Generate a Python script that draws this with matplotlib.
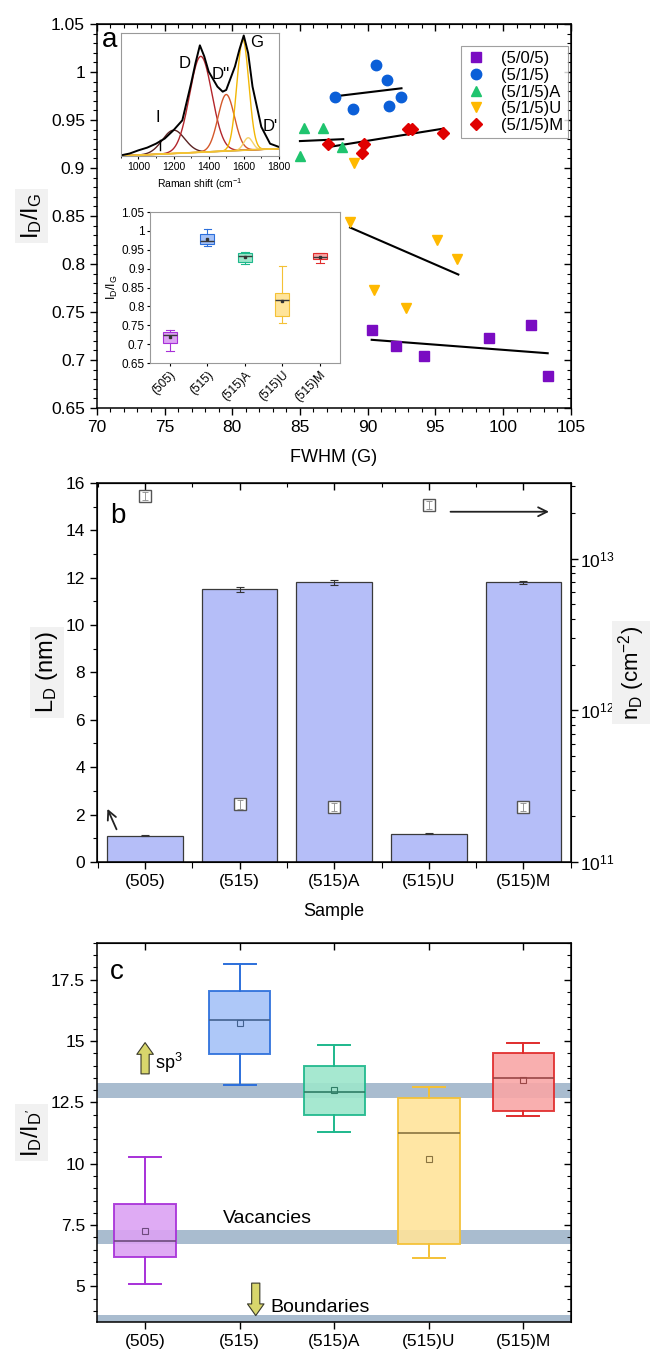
import numpy as np
import matplotlib.pyplot as plt
from matplotlib.ticker import MultipleLocator, FuncFormatter, LogLocator

plt.rcParams['font.family'] = ['Liberation Sans', 'DejaVu Sans']
plt.rcParams['mathtext.fontset'] = 'custom'
plt.rcParams['mathtext.rm'] = 'Liberation Sans'
plt.rcParams['mathtext.it'] = 'Liberation Sans:italic'

# ---- panel a : I_D/I_G vs FWHM(G) ----
series_names = ['(5/0/5)', '(5/1/5)', '(5/1/5)A', '(5/1/5)U', '(5/1/5)M']
series_colors = ['#7a0cc2', '#0b5fd8', '#1fc46e', '#ffb900', '#e00000']
series_markers = ['s', 'o', '^', 'v', 'D']
fwhm = [
    [90.3, 92.1, 94.2, 99.0, 102.1, 103.3],
    [87.6, 88.9, 90.6, 91.4, 91.6, 92.5],
    [85.3, 86.7, 85.0, 88.1],
    [89.0, 88.7, 95.1, 96.6, 90.5, 92.8],
    [87.1, 89.7, 89.6, 93.0, 93.3, 95.6],
]
ratio = [
    [0.731, 0.715, 0.704, 0.723, 0.736, 0.683],
    [0.974, 0.961, 1.007, 0.992, 0.965, 0.974],
    [0.942, 0.942, 0.912, 0.922],
    [0.905, 0.844, 0.825, 0.805, 0.773, 0.754],
    [0.925, 0.925, 0.916, 0.941, 0.941, 0.936],
]
fit_x = [[90.3, 103.3], [87.8, 92.5], [85.0, 88.2], [88.7, 96.7], [87.2, 95.6]]
fit_y = [[0.721, 0.707], [0.975, 0.983], [0.928, 0.930], [0.838, 0.789], [0.922, 0.941]]

# inset: Raman spectrum (normalised)
raman_x = [900, 950, 1000, 1050, 1100, 1150, 1200, 1250, 1300, 1325, 1350, 1375,
           1400, 1450, 1480, 1500, 1550, 1575, 1600, 1625, 1650, 1700, 1750, 1800]
raman_y = [0.005, 0.02, 0.046, 0.068, 0.10, 0.142, 0.21, 0.29, 0.59, 0.755, 0.90, 0.81,
           0.687, 0.564, 0.523, 0.537, 0.728, 0.864, 0.98, 0.837, 0.564, 0.237, 0.10, 0.074]
peak_names = ['I', 'D', "D''", 'G', "D'"]
peak_pos = [1200, 1355, 1500, 1595, 1625]
peak_height = [0.19, 0.78, 0.46, 0.90, 0.10]
peak_fwhm = [150, 150, 110, 80, 60]
peak_colors = ['#5b2323', '#b3262c', '#d4582a', '#f2b705', '#f5d36a']
base_x = [900, 1800]
base_y = [0.0, 0.06]

# inset: box plot of I_D/I_G
samples = ['(505)', '(515)', '(515)A', '(515)U', '(515)M']
box_fill = ['#dca2f3', '#a5c2f8', '#9de6cb', '#ffe49a', '#f9a6a6']
box_edge = ['#a730d8', '#2c6fdb', '#1eb88c', '#f4c136', '#e02c2c']
box_med = ['#6e4a7e', '#42618f', '#2f7d66', '#8a7440', '#9a4646']
ig_whislo = [0.683, 0.9605, 0.912, 0.756, 0.916]
ig_q1 = [0.7035, 0.965, 0.917, 0.775, 0.925]
ig_med = [0.7237, 0.974, 0.9325, 0.816, 0.932]
ig_q3 = [0.7325, 0.991, 0.942, 0.835, 0.941]
ig_whishi = [0.7386, 1.006, 0.944, 0.906, 0.942]
ig_mean = [0.7184, 0.978, 0.930, 0.815, 0.930]

# ---- panel b : L_D and n_D ----
LD = [1.1, 11.5, 11.8, 1.2, 11.8]
LD_err = [0.02, 0.12, 0.12, 0.03, 0.05]
nD = [2.6e13, 2.4e11, 2.3e11, 2.25e13, 2.3e11]
nD_err = [1.6e12, 1.5e10, 1.4e10, 1.4e12, 1.4e10]

# ---- panel c : I_D/I_D' ----
dd_whislo = [5.12, 13.22, 11.28, 6.17, 11.96]
dd_q1 = [6.20, 14.48, 11.98, 6.74, 12.14]
dd_med = [6.84, 15.84, 12.93, 11.24, 13.50]
dd_q3 = [8.36, 17.04, 14.00, 12.70, 14.50]
dd_whishi = [10.27, 18.15, 14.86, 13.14, 14.94]
dd_mean = [7.28, 15.74, 13.00, 10.18, 13.42]
band_lo = [12.70, 6.73, 3.40]
band_hi = [13.28, 7.32, 3.82]

label_bg = dict(facecolor='#f1f1f1', edgecolor='none', pad=3)
tick_fs = 12.5


def style_ticks(ax, mirror_x=True, mirror_y=True):
    # left/bottom ticks out, mirrored top/right ticks in
    ax.tick_params(which='major', direction='out', length=5, width=1, labelsize=tick_fs)
    ax.tick_params(which='minor', direction='out', length=3, width=0.8)
    for s in ax.spines.values():
        s.set_linewidth(1.1)
    if mirror_x:
        top = ax.secondary_xaxis('top')
        top.set_xticks(ax.get_xticks())
        top.xaxis.set_minor_locator(ax.xaxis.get_minor_locator())
        top.tick_params(which='major', direction='in', length=5, width=1, labeltop=False)
        top.tick_params(which='minor', direction='in', length=3, width=0.8)
    if mirror_y:
        right = ax.secondary_yaxis('right')
        right.set_yticks(ax.get_yticks())
        right.yaxis.set_minor_locator(ax.yaxis.get_minor_locator())
        right.tick_params(which='major', direction='in', length=5, width=1, labelright=False)
        right.tick_params(which='minor', direction='in', length=3, width=0.8)


fig = plt.figure(figsize=(6.5, 13.54), dpi=100)

# ================= panel a =================
axa = fig.add_axes([0.149, 0.6987, 0.729, 0.2836])
for i in range(len(series_names)):
    axa.plot(fit_x[i], fit_y[i], color='black', lw=1.5, zorder=2)
for i in range(len(series_names)):
    ms = 7.5 if series_markers[i] in ('o', '^', 'v') else 6.5
    axa.plot(fwhm[i], ratio[i], ls='none', marker=series_markers[i], ms=ms,
             color=series_colors[i], mec=series_colors[i], label=series_names[i], zorder=3)
axa.set_xlim(70, 105)
axa.set_ylim(0.65, 1.05)
axa.xaxis.set_major_locator(MultipleLocator(5))
axa.xaxis.set_minor_locator(MultipleLocator(1))
axa.yaxis.set_major_locator(MultipleLocator(0.05))
axa.yaxis.set_minor_locator(MultipleLocator(0.01))
axa.yaxis.set_major_formatter(FuncFormatter(lambda v, p: f'{v:g}'))
style_ticks(axa)
axa.set_xlim(70, 105)
axa.set_ylim(0.65, 1.05)
axa.set_xlabel('FWHM (G)', fontsize=13, labelpad=10)
axa.set_ylabel('I$_\\mathrm{D}$/I$_\\mathrm{G}$', fontsize=17, labelpad=5, bbox=label_bg)
axa.text(70.4, 1.033, 'a', fontsize=20, ha='left', va='center')
leg = axa.legend(loc='upper right', bbox_to_anchor=(0.995, 0.942), borderaxespad=0,
                 fontsize=12, fancybox=False, edgecolor='#888888', labelspacing=0.1,
                 handletextpad=0.9, handlelength=1.2, borderpad=0.3)
leg.get_frame().set_linewidth(0.8)

# inset: Raman spectrum
axr = fig.add_axes([0.186, 0.8848, 0.243, 0.0908])
xs = np.linspace(900, 1800, 400)
bl = np.interp(xs, base_x, base_y)
for c, h, w, col in zip(peak_pos, peak_height, peak_fwhm, peak_colors):
    sig = w / 2.355
    axr.plot(xs, bl + h * np.exp(-0.5 * ((xs - c) / sig) ** 2), color=col, lw=1.0)
axr.plot(base_x, base_y, color='#f2c230', lw=1.2)
axr.plot(raman_x, raman_y, color='black', lw=1.4)
axr.set_xlim(900, 1800)
axr.set_ylim(0, 1.0)
axr.set_yticks([])
axr.xaxis.set_major_locator(MultipleLocator(200))
axr.xaxis.set_minor_locator(MultipleLocator(100))
axr.tick_params(axis='x', which='major', labelsize=7.5, length=2.5, direction='out', pad=2)
axr.tick_params(axis='x', which='minor', length=1.5)
for s in axr.spines.values():
    s.set_color('#999999')
    s.set_linewidth(0.8)
axr.set_xlabel('Raman shift (cm$^{-1}$', fontsize=7.5, labelpad=3)
axr.text(1110, 0.25, 'I', fontsize=12, ha='center', va='bottom')
axr.plot([1120, 1120], [0.05, 0.13], color='black', lw=1)
axr.text(1265, 0.75, 'D', fontsize=12, ha='center', va='center')
axr.text(1470, 0.66, "D''", fontsize=12, ha='center', va='center')
axr.text(1675, 0.92, 'G', fontsize=12, ha='center', va='center')
axr.text(1750, 0.24, "D'", fontsize=12, ha='center', va='center')

# inset: box plot
axi = fig.add_axes([0.2308, 0.7319, 0.292, 0.1115])
stats_i = [dict(whislo=ig_whislo[k], q1=ig_q1[k], med=ig_med[k], q3=ig_q3[k],
                whishi=ig_whishi[k], mean=ig_mean[k], fliers=[]) for k in range(5)]
bpi = axi.bxp(stats_i, positions=range(5), widths=0.37, patch_artist=True, showmeans=True,
              capwidths=0.2,
              meanprops=dict(marker='s', ms=2, mfc='#333333', mec='#333333'))
for k in range(5):
    bpi['boxes'][k].set(facecolor=box_fill[k], edgecolor=box_edge[k], lw=0.8)
    bpi['medians'][k].set(color='#3a3a3a', lw=1.0)
    for art in bpi['whiskers'][2 * k:2 * k + 2] + bpi['caps'][2 * k:2 * k + 2]:
        art.set(color=box_edge[k], lw=0.8)
axi.set_xlim(-0.53, 4.53)
axi.set_ylim(0.65, 1.05)
axi.yaxis.set_major_locator(MultipleLocator(0.05))
axi.yaxis.set_major_formatter(FuncFormatter(lambda v, p: f'{v:g}'))
axi.set_xticks(range(5))
axi.set_xticklabels(samples, rotation=45, ha='right', rotation_mode='anchor', fontsize=8.5)
axi.tick_params(axis='y', labelsize=8.5, length=2.5, pad=1.5)
axi.tick_params(axis='x', length=2.5, pad=2)
for s in axi.spines.values():
    s.set_color('#999999')
    s.set_linewidth(0.8)
axi.set_ylabel('I$_\\mathrm{D}$/I$_\\mathrm{G}$', fontsize=9, labelpad=1)

# ================= panel b =================
axb = fig.add_axes([0.149, 0.3634, 0.729, 0.280])
xb = np.arange(len(samples))
axb.bar(xb, LD, width=0.8, color='#b5bef8', edgecolor='#3a3a3a', lw=0.9,
        yerr=LD_err, capsize=3, error_kw=dict(lw=0.8, ecolor='#333333', capthick=0.8), zorder=2)
axb.set_xlim(-0.51, 4.5)
axb.set_ylim(0, 16)
axb.set_xticks(xb)
axb.set_xticklabels(samples)
axb.xaxis.set_minor_locator(MultipleLocator(0.5))
axb.yaxis.set_major_locator(MultipleLocator(2))
axb.yaxis.set_minor_locator(MultipleLocator(1))
style_ticks(axb, mirror_y=False)
axb.set_xlim(-0.51, 4.5)
axb.tick_params(axis='x', which='minor', length=4)
axb.set_xlabel('Sample', fontsize=13, labelpad=10)
axb.set_ylabel('L$_\\mathrm{D}$ (nm)', fontsize=17, labelpad=4, bbox=label_bg)
axb.text(-0.37, 14.6, 'b', fontsize=20, ha='left', va='center')
axb.annotate('', xy=(-0.41, 2.35), xytext=(-0.29, 1.27),
             arrowprops=dict(arrowstyle='->', lw=1.3, color='#222222', mutation_scale=16))
axb.annotate('', xy=(4.30, 14.78), xytext=(3.20, 14.78),
             arrowprops=dict(arrowstyle='->', lw=1.3, color='#222222', mutation_scale=16))

axb2 = axb.twinx()
axb2.set_yscale('log')
axb2.set_ylim(1e11, 10 ** 13.5)
axb2.plot(xb, nD, ls='none', marker='s', ms=8.5, mfc='white', mec='#555555', mew=1.0, zorder=4)
axb2.errorbar(xb, nD, yerr=nD_err, fmt='none', ecolor='#888888', elinewidth=0.6,
              capsize=2, capthick=0.6, zorder=5)
axb2.yaxis.set_major_locator(LogLocator(base=10, numticks=10))
axb2.yaxis.set_minor_locator(LogLocator(base=10, subs=np.arange(2, 10), numticks=10))
axb2.tick_params(which='major', direction='out', length=5, width=1, labelsize=tick_fs, pad=2)
axb2.tick_params(which='minor', direction='out', length=3, width=0.8)
axb2.set_ylabel('n$_\\mathrm{D}$ (cm$^{-2}$)', fontsize=16, labelpad=1, bbox=label_bg)

# ================= panel c =================
axc = fig.add_axes([0.149, 0.0236, 0.729, 0.280])
for lo, hi in zip(band_lo, band_hi):
    axc.axhspan(lo, hi, color='#a9bccf', lw=0, zorder=0)
stats_c = [dict(whislo=dd_whislo[k], q1=dd_q1[k], med=dd_med[k], q3=dd_q3[k],
                whishi=dd_whishi[k], mean=dd_mean[k], fliers=[]) for k in range(5)]
bpc = axc.bxp(stats_c, positions=range(5), widths=0.65, patch_artist=True, showmeans=True,
              capwidths=0.34,
              meanprops=dict(marker='s', ms=4, mfc='none', mew=0.8))
for k in range(5):
    bpc['boxes'][k].set(facecolor=box_fill[k], edgecolor=box_edge[k], lw=1.4, alpha=0.9)
    bpc['medians'][k].set(color=box_med[k], lw=1.2)
    bpc['means'][k].set(mec=box_med[k])
    for art in bpc['whiskers'][2 * k:2 * k + 2] + bpc['caps'][2 * k:2 * k + 2]:
        art.set(color=box_edge[k], lw=1.4)
axc.set_xlim(-0.51, 4.5)
axc.set_ylim(3.55, 19.0)
axc.set_xticks(range(5))
axc.set_xticklabels(samples)
axc.yaxis.set_major_locator(MultipleLocator(2.5))
axc.yaxis.set_minor_locator(MultipleLocator(0.5))
axc.yaxis.set_major_formatter(FuncFormatter(lambda v, p: f'{v:g}'))
style_ticks(axc)
axc.set_xlim(-0.51, 4.5)
axc.set_ylim(3.55, 19.0)
axc.set_ylabel("I$_\\mathrm{D}$/I$_\\mathrm{D'}$", fontsize=17, labelpad=5, bbox=label_bg)
axc.text(-0.37, 17.8, 'c', fontsize=20, ha='left', va='center')
arrow_style = 'simple,head_width=0.85,head_length=0.6,tail_width=0.42'
axc.annotate('', xy=(0.0, 15.05), xytext=(0.0, 13.55),
             arrowprops=dict(arrowstyle=arrow_style, mutation_scale=14,
                             fc='#d8d66c', ec='#3a3a2a', lw=0.8))
axc.annotate('', xy=(1.17, 3.7), xytext=(1.17, 5.25),
             arrowprops=dict(arrowstyle=arrow_style, mutation_scale=14,
                             fc='#d8d66c', ec='#3a3a2a', lw=0.8))
axc.text(0.10, 14.1, 'sp$^3$', fontsize=13, ha='left', va='center')
axc.text(0.82, 7.75, 'Vacancies', fontsize=14, ha='left', va='center')
axc.text(1.32, 4.15, 'Boundaries', fontsize=14, ha='left', va='center')

fig.savefig('out.png', dpi=100)
